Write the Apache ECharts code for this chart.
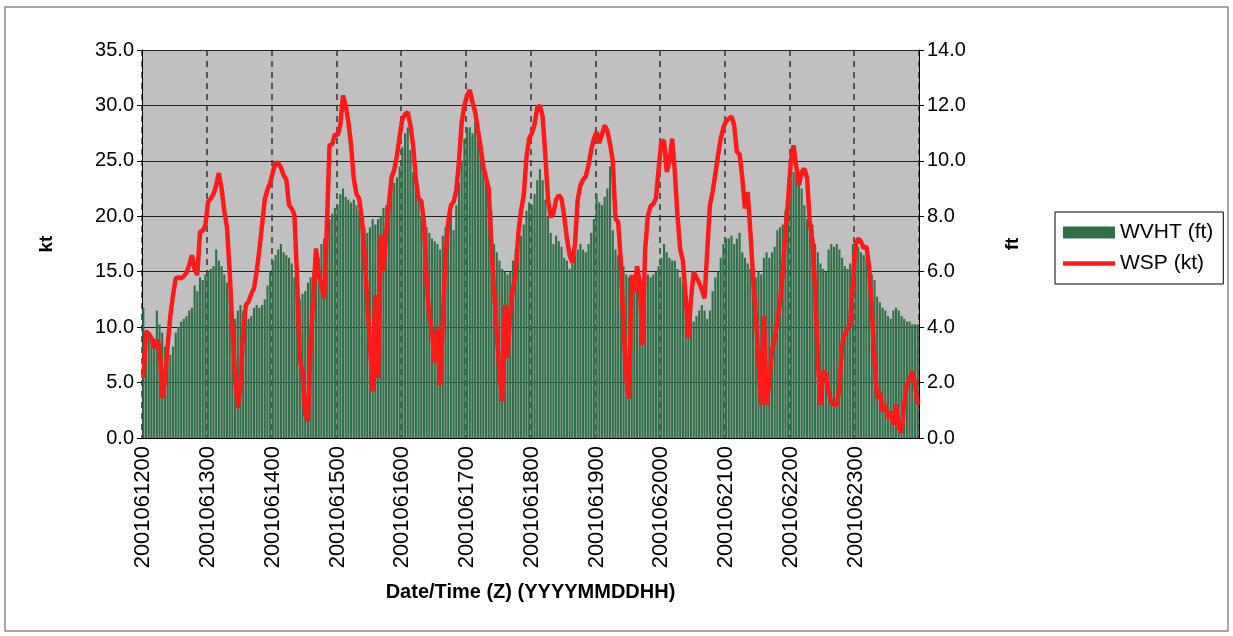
<!DOCTYPE html>
<html>
<head>
<meta charset="utf-8">
<script src="https://cdn.jsdelivr.net/npm/echarts@6.0.0/dist/echarts.min.js"></script>
<style>
  html, body { margin: 0; padding: 0; background: #fff; }
  #chart { width: 1233px; height: 636px; }
</style>
</head>
<body>
<div id="chart"></div>
<script>
// hourly observations 2001-06-12 00Z .. 2001-06-23 23Z
const days = ['12', '13', '14', '15', '16', '17', '18', '19', '20', '21', '22', '23']
const hours = ['00', '01', '02', '03', '04', '05', '06', '07', '08', '09', '10', '11',
  '12', '13', '14', '15', '16', '17', '18', '19', '20', '21', '22', '23']
const categories = []
for (const d of days) {
  for (const h of hours) categories.push('200106' + d + h)
}

// wave height (ft), right axis
const wvht = [
  4.7, 3.9, 3.8, 3.7, 3.6, 4.6, 4.1, 3.8, 3.3, 3.0, 3.0, 3.3, 3.8, 4.0, 4.2, 4.3, 4.4, 4.6, 4.7, 5.5, 5.3, 5.8, 5.7, 5.9,
  6.0, 6.1, 6.2, 6.8, 6.4, 6.2, 5.9, 5.6, 5.2, 4.6, 4.3, 4.6, 4.8, 4.6, 4.4, 4.3, 4.4, 4.7, 4.8, 4.7, 4.8, 5.0, 5.5, 6.0,
  6.4, 6.6, 6.8, 7.0, 6.7, 6.6, 6.5, 6.3, 5.8, 5.3, 5.0, 5.2, 5.3, 5.6, 5.8, 6.0, 5.9, 6.5, 7.0, 7.2, 7.6, 7.9, 8.1, 8.3,
  8.4, 8.8, 9.0, 8.7, 8.6, 8.5, 8.6, 8.4, 8.2, 7.8, 7.6, 7.4, 7.6, 7.9, 7.7, 7.9, 8.0, 8.3, 8.4, 8.6, 9.0, 9.2, 9.4, 9.8,
  10.5, 11.0, 11.2, 10.4, 9.6, 9.1, 8.6, 8.0, 7.8, 7.6, 7.4, 7.2, 7.1, 7.0, 6.8, 7.3, 7.6, 7.9, 8.3, 7.5, 8.4, 9.2, 10.0, 10.8,
  11.2, 11.2, 11.0, 11.4, 11.1, 10.7, 9.8, 9.3, 9.0, 8.2, 7.0, 6.7, 6.4, 6.1, 6.0, 5.9, 6.0, 6.4, 6.8, 7.0, 7.3, 7.7, 8.2, 8.5,
  8.4, 8.8, 9.3, 9.7, 9.3, 8.6, 8.0, 7.4, 7.0, 7.3, 7.1, 6.9, 6.5, 6.4, 6.1, 6.3, 6.6, 6.8, 7.0, 6.8, 6.7, 7.0, 7.4, 7.9,
  8.8, 8.5, 8.4, 8.7, 9.0, 9.8, 7.5, 6.8, 6.6, 6.4, 6.2, 5.9, 5.8, 5.8, 5.7, 5.6, 5.7, 5.5, 5.6, 5.9, 5.8, 5.9, 6.0, 6.2,
  6.5, 7.0, 6.7, 6.5, 6.4, 6.4, 6.1, 5.8, 5.6, 5.2, 4.8, 4.3, 4.2, 4.4, 4.6, 4.8, 4.6, 4.3, 4.6, 5.3, 5.8, 6.0, 6.5, 7.0,
  7.2, 7.2, 7.3, 7.0, 7.2, 7.4, 6.7, 6.5, 6.3, 6.1, 5.9, 5.8, 6.0, 5.9, 6.5, 6.7, 6.5, 6.7, 6.9, 7.5, 7.6, 7.7, 8.2, 8.6,
  9.3, 9.6, 9.5, 9.2, 9.0, 8.4, 7.9, 7.8, 7.7, 7.0, 6.7, 6.3, 6.1, 6.0, 6.8, 7.0, 6.9, 7.0, 6.8, 6.5, 6.2, 6.1, 6.3, 7.0,
  7.0, 6.9, 6.7, 6.6, 6.5, 6.1, 5.9, 5.7, 5.1, 4.9, 4.7, 4.6, 4.4, 4.3, 4.6, 4.7, 4.6, 4.4, 4.3, 4.2, 4.2, 4.1, 4.1, 4.1
]

// wind speed (kt), left axis
const wsp = [
  5.4, 9.6, 9.4, 9.0, 8.1, 8.8, 8.4, 3.6, 5.2, 8.3, 11.0, 12.9, 14.4, 14.5, 14.4, 14.6, 14.9, 15.6, 16.5, 15.2, 14.7, 18.6, 18.7, 19.2,
  21.3, 21.6, 22.0, 22.8, 23.9, 22.5, 20.5, 19.0, 15.0, 9.9, 5.5, 2.7, 4.8, 9.5, 12.0, 12.3, 13.0, 13.5, 15.0, 17.0, 19.2, 21.5, 22.4, 23.0,
  24.0, 24.8, 24.8, 24.4, 23.7, 23.3, 21.0, 20.7, 20.1, 14.4, 7.0, 6.0, 2.1, 1.5, 8.4, 12.6, 17.1, 14.7, 13.8, 12.6, 18.9, 26.4, 26.5, 27.4,
  27.3, 28.2, 30.9, 30.0, 28.5, 26.4, 23.4, 22.0, 21.6, 19.8, 16.5, 12.5, 8.4, 4.2, 12.9, 5.4, 18.3, 15.0, 18.5, 21.0, 23.5, 24.2, 25.5, 27.2,
  28.8, 29.2, 29.4, 28.2, 26.4, 23.4, 21.6, 21.4, 19.5, 14.0, 11.0, 9.6, 6.8, 9.9, 4.8, 10.5, 16.5, 19.5, 21.0, 21.3, 22.3, 25.0, 28.5, 30.0,
  30.9, 31.4, 30.3, 29.4, 27.8, 26.3, 24.5, 23.5, 22.5, 17.4, 13.2, 9.5, 6.0, 3.3, 12.0, 7.2, 11.4, 13.5, 14.8, 18.5, 20.5, 21.9, 25.3, 27.0,
  27.5, 28.3, 29.8, 30.0, 29.0, 25.5, 21.5, 19.9, 20.3, 21.5, 21.9, 21.6, 20.0, 18.0, 16.5, 15.8, 17.5, 21.5, 22.8, 23.3, 23.6, 24.6, 26.0, 27.0,
  27.6, 26.6, 27.4, 28.2, 27.7, 26.5, 25.0, 19.8, 19.5, 15.9, 9.9, 5.4, 3.6, 14.7, 13.2, 15.5, 14.0, 8.4, 17.0, 20.0, 20.9, 21.1, 21.6, 24.3,
  26.8, 26.8, 24.0, 25.0, 27.0, 24.0, 20.0, 17.0, 16.0, 12.8, 9.0, 12.6, 15.0, 14.5, 14.0, 13.4, 12.6, 16.8, 21.0, 22.2, 23.8, 25.5, 27.0, 28.0,
  28.6, 28.8, 29.0, 28.2, 25.8, 25.6, 23.5, 20.7, 22.2, 18.6, 14.5, 11.0, 7.0, 3.0, 11.0, 3.0, 5.0, 7.8, 9.0, 10.5, 12.3, 15.0, 18.6, 21.5,
  25.0, 26.4, 24.5, 22.8, 24.0, 24.3, 23.5, 19.5, 17.8, 13.5, 7.0, 3.0, 6.0, 5.8, 4.2, 3.2, 3.0, 3.0, 4.5, 8.5, 9.4, 9.8, 10.3, 14.0,
  17.4, 18.0, 17.7, 17.1, 17.3, 15.5, 11.5, 7.0, 3.6, 4.2, 2.4, 3.0, 1.8, 2.4, 1.2, 3.0, 0.9, 0.5, 3.0, 4.8, 5.4, 6.0, 5.0, 3.0
]

const ktTicks = { min: 0, max: 35, step: 5 }
const ftTicks = { min: 0, max: 14, step: 2 }

const font = "'Liberation Sans', Arial, sans-serif"

const chart = echarts.init(document.getElementById('chart'))
chart.setOption({
  backgroundColor: '#fff',
  animation: false,
  textStyle: { fontFamily: font, color: '#000' },
  graphic: [
    {
      type: 'rect',
      shape: { x: 5, y: 7, width: 1223, height: 624 },
      style: { fill: 'none', stroke: '#8a8a8a', lineWidth: 1.5 },
      silent: true
    }
  ],
  legend: {
    orient: 'vertical',
    left: 1055,
    top: 212,
    padding: [10, 10, 10, 8],
    itemWidth: 52,
    itemHeight: 12,
    itemGap: 10,
    backgroundColor: '#fff',
    borderColor: '#000',
    borderWidth: 1,
    textStyle: { fontSize: 21, fontFamily: font, color: '#000' },
    data: [
      { name: 'WVHT (ft)', icon: 'rect' },
      // plain red stroke, no marker
      { name: 'WSP (kt)', icon: 'path://M0,0 L100,0 L100,9 L0,9 Z' }
    ]
  },
  grid: {
    left: 142,
    right: 314,
    top: 50,
    bottom: 198,
    show: true,
    backgroundColor: '#c0c0c0',
    borderWidth: 0
  },
  xAxis: {
    type: 'category',
    data: categories,
    boundaryGap: true,
    name: 'Date/Time (Z) (YYYYMMDDHH)',
    nameLocation: 'middle',
    nameGap: 144,
    nameTextStyle: { fontSize: 20, fontWeight: 'bold', fontFamily: font, color: '#000' },
    axisLine: { lineStyle: { color: '#000', width: 1 } },
    axisTick: { interval: 23, length: 5, lineStyle: { color: '#000' } },
    axisLabel: { interval: 23, rotate: 90, fontSize: 22, margin: 8, color: '#000', fontFamily: font },
    splitLine: { show: true, interval: 23, lineStyle: { color: '#333', width: 1.5, type: [6, 5] } }
  },
  yAxis: [
    {
      type: 'value',
      min: ktTicks.min,
      max: ktTicks.max,
      interval: ktTicks.step,
      name: 'kt',
      nameLocation: 'middle',
      nameGap: 86,
      nameRotate: 90,
      nameTextStyle: { fontSize: 19, fontWeight: 'bold', fontFamily: font, color: '#000' },
      axisLine: { show: true, lineStyle: { color: '#000' } },
      axisTick: { show: true, length: 5, lineStyle: { color: '#000' } },
      axisLabel: { fontSize: 20, margin: 8, color: '#000', fontFamily: font, formatter: v => v.toFixed(1) },
      splitLine: { show: true, lineStyle: { color: '#222', width: 1 } }
    },
    {
      type: 'value',
      min: ftTicks.min,
      max: ftTicks.max,
      interval: ftTicks.step,
      name: 'ft',
      nameLocation: 'middle',
      nameGap: 84,
      nameRotate: 90,
      nameTextStyle: { fontSize: 19, fontWeight: 'bold', fontFamily: font, color: '#000' },
      axisLine: { show: true, lineStyle: { color: '#000' } },
      axisTick: { show: true, length: 5, lineStyle: { color: '#000' } },
      axisLabel: { fontSize: 20, margin: 8, color: '#000', fontFamily: font, formatter: v => v.toFixed(1) },
      splitLine: { show: false }
    }
  ],
  series: [
    {
      name: 'WVHT (ft)',
      type: 'bar',
      yAxisIndex: 1,
      data: wvht,
      barCategoryGap: '22%',
      itemStyle: { color: '#2f7048' }
    },
    {
      name: 'WSP (kt)',
      type: 'line',
      yAxisIndex: 0,
      data: wsp,
      symbol: 'none',
      smooth: false,
      z: 5,
      lineStyle: { color: '#ff1a1a', width: 4.5 },
      itemStyle: { color: '#ff1a1a' }
    }
  ]
})
</script>
</body>
</html>
